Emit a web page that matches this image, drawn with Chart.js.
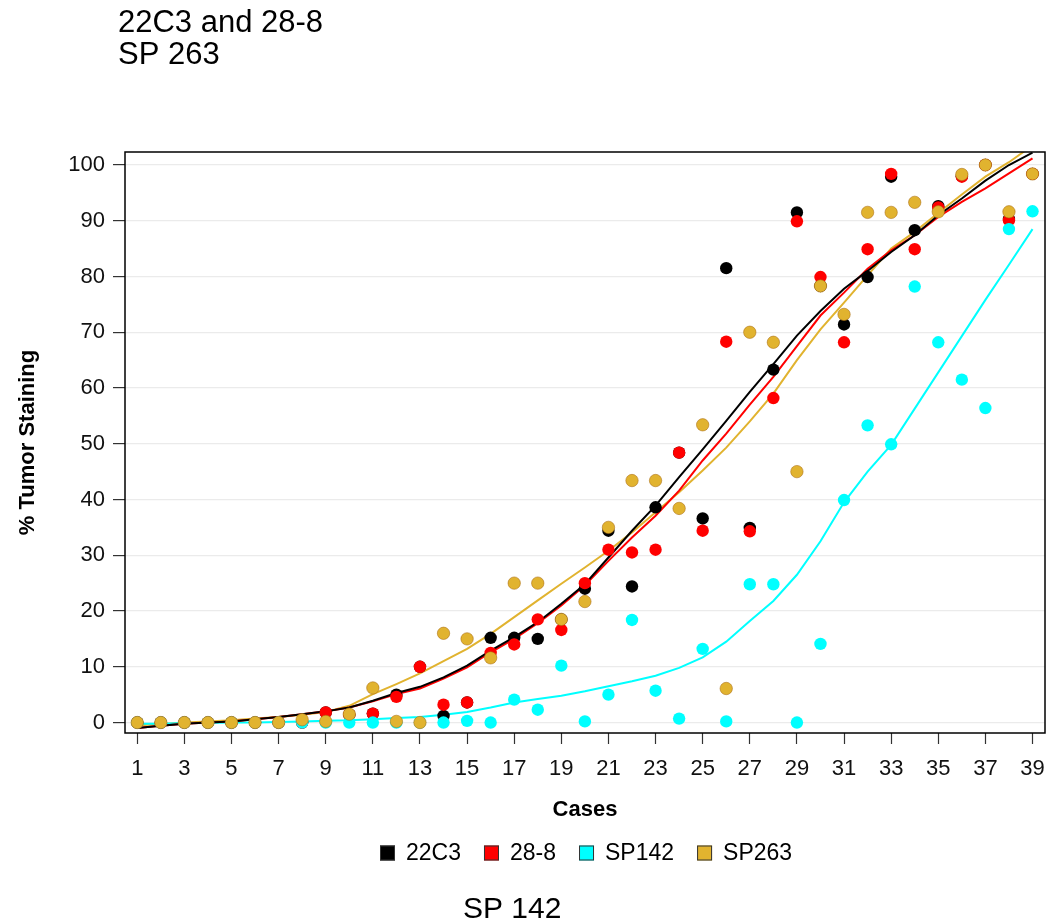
<!DOCTYPE html>
<html><head><meta charset="utf-8">
<script src="https://cdn.jsdelivr.net/npm/chart.js@4.4.1/dist/chart.umd.min.js"></script>
<style>html,body{margin:0;padding:0;background:#fff;} canvas{display:block;}</style>
</head><body>
<canvas id="c" width="1059" height="921" style="width:1059px;height:921px"></canvas>
<script>
// ---- data ----
const cases = [1,2,3,4,5,6,7,8,9,10,11,12,13,14,15,16,17,18,19,20,21,22,23,24,25,26,27,28,29,30,31,32,33,34,35,36,37,38,39];
const xTickLabels = [1,3,5,7,9,11,13,15,17,19,21,23,25,27,29,31,33,35,37,39];
const yTickLabels = [0,10,20,30,40,50,60,70,80,90,100];
const seriesNames = ['22C3','28-8','SP142','SP263'];

const v22C3  = [0,0,0,0,0,0,0,0,1.8,1.4,1.6,5.0,10.0,1.2,3.6,15.2,15.2,15.0,18.5,24.0,34.4,24.4,38.6,48.4,36.6,81.5,34.9,63.3,91.5,78.3,71.4,79.9,97.9,88.3,92.6,98.0,100,90.3,98.4];
const v28_8  = [0,0,0,0,0,0,0,0,1.8,1.4,1.6,4.6,10.0,3.2,3.6,12.5,14.0,18.5,16.6,25.0,31.0,30.5,31.0,48.4,34.4,68.3,34.3,58.2,89.9,79.9,68.2,84.9,98.4,84.9,92.4,97.9,100,90.1,98.4];
const vSP142 = [0,0,0,0,0,0,0,0,0,0,0,0,0,0,0.3,0,4.1,2.3,10.2,0.2,5.0,18.4,5.7,0.7,13.2,0.2,24.8,24.8,0,14.1,39.9,53.3,49.9,78.2,68.2,61.5,56.4,88.5,91.7];
const vSP263 = [0,0,0,0,0,0,0,0.5,0.2,1.5,6.2,0.2,0,16.0,15.0,11.6,25.0,25.0,18.5,21.7,35.0,43.4,43.4,38.4,53.4,6.1,70.0,68.2,45.0,78.3,73.2,91.5,91.5,93.3,91.6,98.3,100,91.6,98.4];

// smoothed trend lines
const fit22C3  = [-1.0,-0.6,-0.2,0.0,0.2,0.6,1.0,1.5,2.0,2.7,3.9,5.3,6.4,8.1,10.2,12.9,15.3,18.0,21.3,24.8,29.6,34.4,38.9,44.0,49.0,54.1,59.3,64.3,69.4,73.8,77.8,81.0,84.4,87.4,91.0,94.0,97.2,100.0,102.2];
const fit28_8  = [-1.0,-0.6,-0.2,0.0,0.2,0.6,1.0,1.5,2.0,2.7,3.8,5.1,6.1,7.9,9.9,12.6,15.0,17.8,21.0,24.6,29.0,33.2,37.1,41.6,47.0,51.8,57.0,62.0,67.5,73.0,77.1,81.4,84.7,87.4,90.7,93.4,95.8,98.5,101.2];
const fitSP142 = [-0.2,-0.2,-0.1,-0.1,0,0,0.1,0.2,0.3,0.4,0.6,0.8,1.0,1.4,1.9,2.7,3.6,4.2,4.8,5.6,6.5,7.4,8.4,9.8,11.7,14.5,18.2,21.8,26.5,32.5,39.5,45.0,49.8,56.3,62.8,69.3,75.8,82.1,88.5];
const fitSP263 = [-0.5,-0.3,0.0,0.2,0.4,0.7,1.0,1.4,1.9,3.0,5.1,6.9,8.8,11.0,13.2,15.9,18.9,21.9,24.9,27.8,30.8,34.1,37.7,41.3,45.2,49.3,54.0,59.0,65.0,70.5,75.3,80.2,85.0,88.0,91.4,94.7,97.9,100.5,103.5];

const colors = ['#000000','#ff0000','#00ffff','#e1b32f'];

// ---- build ----
const pts = arr => cases.map((c,i)=>({x:c,y:arr[i]}));
const pointSets = [v22C3, v28_8, vSP142, vSP263];
const fitSets = [fit22C3, fit28_8, fitSP142, fitSP263];
const pointOrder = [3,2,1,0];

const datasets = [];
fitSets.forEach((f,i)=>{
  datasets.push({label: seriesNames[i]+' fit', data: pts(f), showLine:true, pointRadius:0,
    borderColor: colors[i], borderWidth: 2, backgroundColor: colors[i], order: 10+i, tension:0});
});
pointSets.forEach((p,i)=>{
  datasets.push({label: seriesNames[i], data: pts(p), showLine:false, pointRadius:6.2, pointHoverRadius:6.2,
    backgroundColor: colors[i], borderColor: i===3 ? 'rgba(170,110,20,0.7)' : colors[i],
    borderWidth: i===3 ? 0.8 : 0, order: pointOrder[i]});
});

Chart.defaults.font.family = "'Liberation Sans', Arial, sans-serif";
Chart.defaults.color = '#111';

const extras = {
  id: 'extras',
  afterDatasetsDraw(chart){
    const {ctx, chartArea:a} = chart;
    ctx.save();
    ctx.strokeStyle = '#000'; ctx.lineWidth = 1.5;
    ctx.strokeRect(a.left, a.top, a.right-a.left, a.bottom-a.top);
    ctx.restore();
  },
  afterDraw(chart){
    const ctx = chart.ctx;
    ctx.save();
    ctx.fillStyle = '#000';
    ctx.textBaseline = 'alphabetic';
    ctx.textAlign = 'left';
    ctx.font = "31px 'Liberation Sans', Arial, sans-serif";
    ctx.fillText('22C3 and 28-8', 118, 32);
    ctx.fillText('SP 263', 118, 64);
    ctx.font = "30px 'Liberation Sans', Arial, sans-serif";
    ctx.fillText('SP 142', 463, 918);
    // legend
    ctx.font = "23px 'Liberation Sans', Arial, sans-serif";
    ctx.textBaseline = 'middle';
    let x = 380; const cy = 853; const sq = 15;
    seriesNames.forEach((n,i)=>{
      ctx.fillStyle = colors[i];
      ctx.fillRect(x, cy-sq/2, sq, sq);
      ctx.strokeStyle = '#333'; ctx.lineWidth = 1;
      ctx.strokeRect(x+0.5, cy-sq/2+0.5, sq-1, sq-1);
      x += sq + 11;
      ctx.fillStyle = '#000';
      ctx.fillText(n, x, cy+1);
      x += ctx.measureText(n).width + 23;
    });
    ctx.restore();
  }
};

new Chart(document.getElementById('c'), {
  type: 'scatter',
  data: { datasets },
  options: {
    responsive: false, animation: false, devicePixelRatio: 1,
    layout: { padding: { left: 0, top: 152, right: 14, bottom: 98 } },
    plugins: { legend: {display:false}, tooltip: {enabled:false}, title:{display:false} },
    scales: {
      x: {
        type: 'linear', min: 0.48, max: 39.53,
        afterBuildTicks: s => { s.ticks = xTickLabels.map(v=>({value:v})); },
        afterFit: s => { s.height = 90; },
        ticks: { font: {size: 22}, color:'#111', padding: 12, autoSkip:false, maxRotation:0,
                 callback: v => String(v) },
        grid: { drawOnChartArea:false, drawTicks:true, tickLength: 11, tickColor:'#333', tickWidth:1.2 },
        border: { display:false },
        title: { display:true, text:'Cases', font:{size:22, weight:'bold'}, color:'#000', padding:{top:0,bottom:0} }
      },
      y: {
        type: 'linear', min: -1.88, max: 102.33,
        afterBuildTicks: s => { s.ticks = yTickLabels.map(v=>({value:v})); },
        afterFit: s => { s.width = 125; },
        ticks: { font: {size: 22}, color:'#111', padding: 8, callback: v => String(v) },
        grid: { drawOnChartArea:true, drawTicks:true, tickLength: 12, color:'#ebebeb', lineWidth:1.2,
                tickColor:'#333', tickWidth:1.2 },
        border: { display:false },
        title: { display:true, text:'% Tumor Staining', font:{size:22, weight:'bold'}, color:'#000', padding:{top:15,bottom:0} }
      }
    }
  },
  plugins: [extras]
});
</script>
</body></html>
